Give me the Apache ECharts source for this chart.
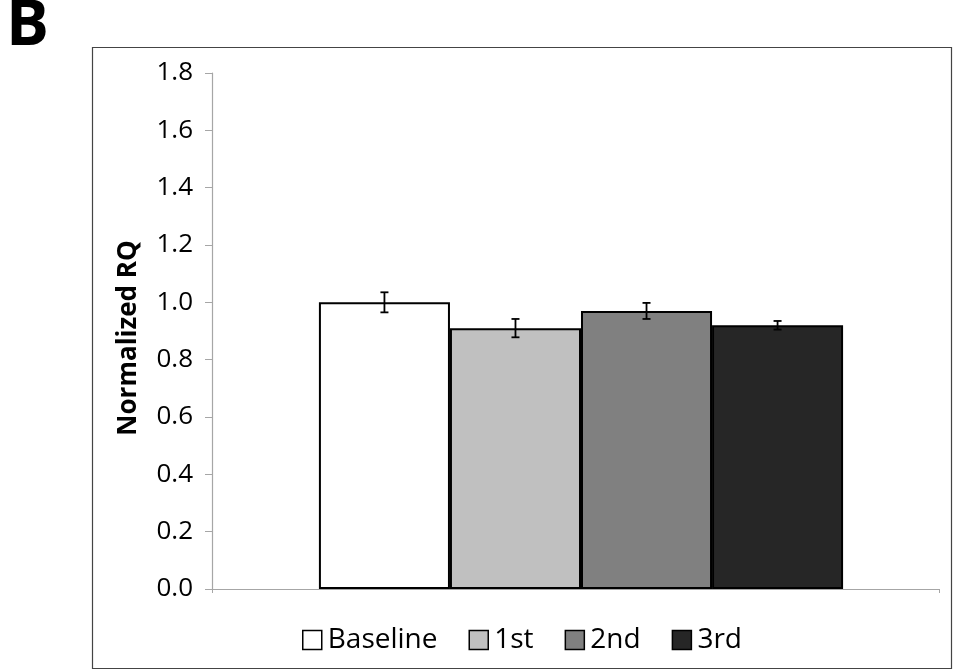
<!DOCTYPE html>
<html><head><meta charset="utf-8">
<script src="https://cdn.jsdelivr.net/npm/echarts@6/dist/echarts.min.js"></script>
<style>html,body{margin:0;padding:0;background:#fff}#c{width:953px;height:671px}</style>
</head><body><div id="c"></div>
<script>
const categories = [''];
const seriesNames = ['Baseline', '1st', '2nd', '3rd'];
const values = [1.00, 0.91, 0.97, 0.92];
const errors = [0.035, 0.032, 0.028, 0.015];
const colors = ['#ffffff', '#c0c0c0', '#808080', '#262626'];
const yTicks = [0, 0.2, 0.4, 0.6, 0.8, 1.0, 1.2, 1.4, 1.6, 1.8];
const yTitle = 'Normalized RQ';
const panelLabel = 'B';

const FONT = '"Open Sans"';
const gapPct = 28;
const chart = echarts.init(document.getElementById('c'));
const series = seriesNames.map((n, i) => ({
  name: n, type: 'bar', data: [values[i]], barGap: '0%', barCategoryGap: gapPct + '%',
  xAxisIndex: 1, yAxisIndex: 1,
  itemStyle: { color: colors[i], borderColor: '#000', borderWidth: 2 },
  emphasis: { disabled: true }
}));
series.push({
  type: 'custom', name: 'err', silent: true, z: 10, xAxisIndex: 1, yAxisIndex: 1,
  data: seriesNames.map((n, i) => [0, values[i], errors[i], i]),
  renderItem: function (params, api) {
    const idx = api.value(3);
    const v = api.value(1), e = api.value(2);
    const band = api.size([1, 0])[0];
    const bw = band * (1 - gapPct / 100) / seriesNames.length;
    const c = api.coord([api.value(0), v]);
    const x = c[0] - bw * (seriesNames.length / 2) + bw * (idx + 0.5);
    const top = api.coord([0, v + e])[1];
    const bot = api.coord([0, v - e])[1];
    const cap = 4;
    const st = { stroke: '#000', lineWidth: 1.8 };
    return { type: 'group', children: [
      { type: 'line', shape: { x1: x, y1: top, x2: x, y2: bot }, style: st },
      { type: 'line', shape: { x1: x - cap, y1: top, x2: x + cap, y2: top }, style: st },
      { type: 'line', shape: { x1: x - cap, y1: bot, x2: x + cap, y2: bot }, style: st }
    ]};
  }
});

const yAxisBase = { type: 'value', min: 0, max: 1.8, interval: 0.2 };
chart.setOption({
  animation: false,
  backgroundColor: '#fff',
  graphic: [
    { type: 'rect', shape: { x: 92.5, y: 47.5, width: 859, height: 621 }, style: { fill: 'none', stroke: '#444', lineWidth: 1.2 }, z: -1 },
    { type: 'text', left: 6, top: -5, style: { text: panelLabel, font: 'bold 64px ' + FONT, fill: '#000' } },
    { type: 'text', x: 129, y: 338, rotation: Math.PI / 2,
      style: { text: yTitle, font: 'bold 26px ' + FONT, fill: '#000', align: 'center', verticalAlign: 'middle' } }
  ],
  grid: [
    { left: 212, right: 14, top: 73, bottom: 82 },
    { left: 217, right: 8, top: 73, bottom: 82 }
  ],
  legend: {
    data: seriesNames, top: 621, left: 297, itemWidth: 19, itemHeight: 19, itemGap: 31,
    icon: 'rect',
    itemStyle: { borderColor: '#000', borderWidth: 1.5 },
    textStyle: { fontFamily: FONT, fontSize: 28, color: '#000', padding: [0, 0, 0, 1] }
  },
  xAxis: [{
    gridIndex: 0, type: 'category', data: categories,
    axisLine: { lineStyle: { color: '#a6a6a6', width: 1.2 } },
    axisTick: { show: true, length: 4, lineStyle: { color: '#a6a6a6' } }, axisLabel: { show: false }
  }, {
    gridIndex: 1, type: 'category', data: categories, show: false
  }],
  yAxis: [Object.assign({}, yAxisBase, {
    gridIndex: 0,
    axisLine: { show: true, lineStyle: { color: '#a6a6a6', width: 1.2 } },
    axisTick: { show: true, length: 7, lineStyle: { color: '#a6a6a6' } },
    splitLine: { show: false },
    axisLabel: { fontFamily: FONT, fontSize: 26, color: '#000', margin: 19,
      formatter: v => (yTicks.find(t => Math.abs(t - v) < 1e-9) ?? v).toFixed(1) }
  }), Object.assign({}, yAxisBase, { gridIndex: 1, show: false, splitLine: { show: false } })],
  series: series
});
</script></body></html>
